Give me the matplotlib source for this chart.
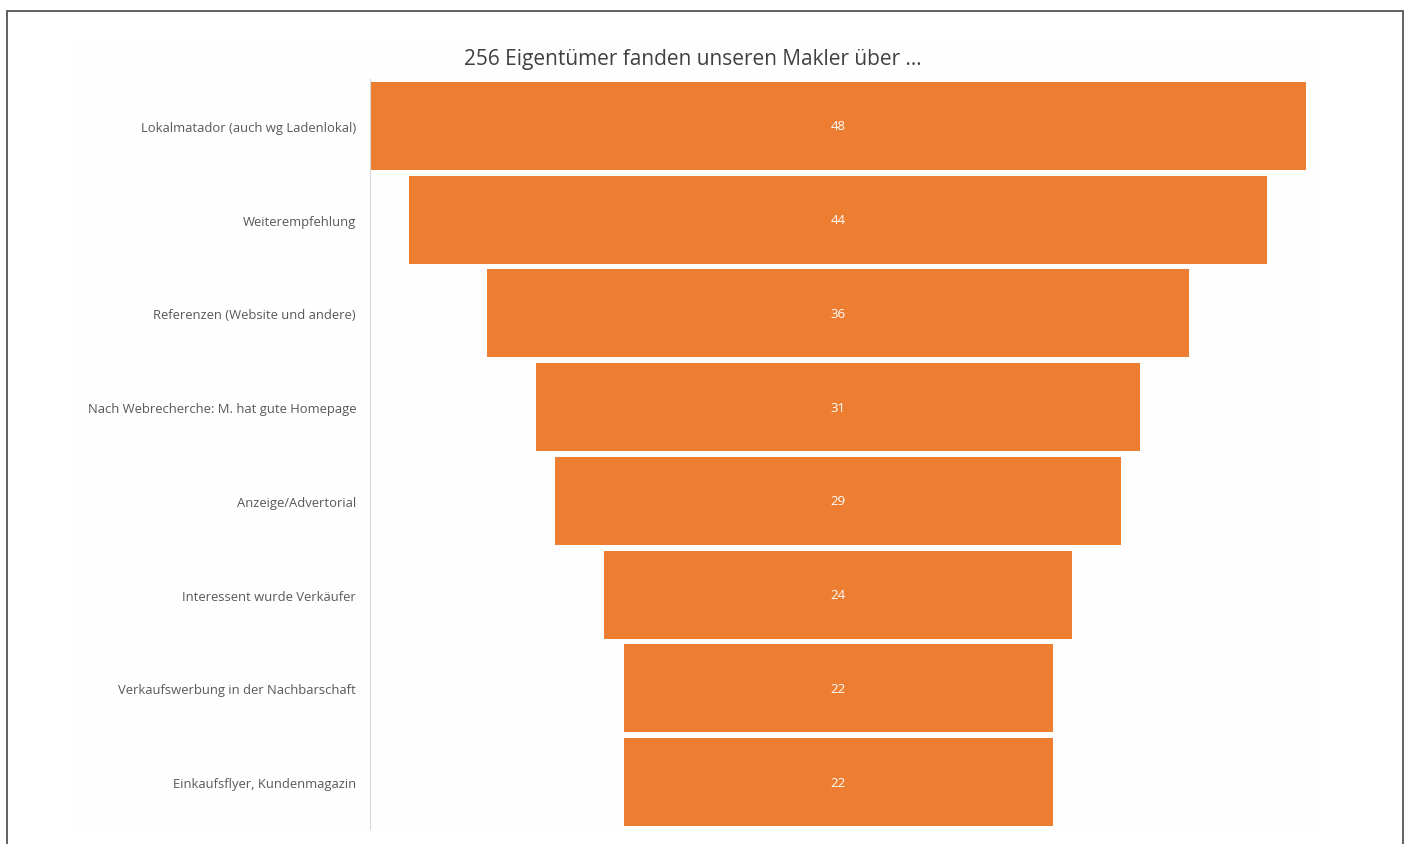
import matplotlib.pyplot as plt
from matplotlib.patches import Rectangle

categories = ['Lokalmatador (auch wg Ladenlokal)', 'Weiterempfehlung',
              'Referenzen (Website und andere)', 'Nach Webrecherche: M. hat gute Homepage',
              'Anzeige/Advertorial', 'Interessent wurde Verkäufer',
              'Verkaufswerbung in der Nachbarschaft', 'Einkaufsflyer, Kundenmagazin']
values = [48, 44, 36, 31, 29, 24, 22, 22]
title = '256 Eigentümer fanden unseren Makler über ...'

plt.rcParams['font.family'] = ['Open Sans', 'DejaVu Sans']

fig = plt.figure(figsize=(14.08, 8.45), dpi=100)
W, H = 1408, 845

# outer frame and faint chart area
fig.add_artist(Rectangle((72 / W, 1 - 830 / H), (1320 - 72) / W, (830 - 40) / H,
                         transform=fig.transFigure, facecolor='#fefefe', edgecolor='none', zorder=0))
fig.add_artist(Rectangle((7 / W, -0.02), (1403 - 7) / W, 1 - 12 / H + 0.02,
                         transform=fig.transFigure, facecolor='none', edgecolor='#555555',
                         linewidth=1.3, zorder=5))

ax = fig.add_axes([370 / W, 1 - 830 / H, (1306 - 370) / W, (830 - 80) / H])
ax.patch.set_alpha(0)

y = list(range(len(values)))
lefts = [-v / 2 for v in values]
bars = ax.barh(y, values, left=lefts, height=0.94, color='#ED7D31')
for yi, v in zip(y, values):
    ax.text(0, yi, str(v), ha='center', va='center', color='white', fontsize=9.5)

m = max(values) / 2
ax.set_xlim(-m, m)
ax.set_ylim(len(values) - 0.5, -0.5)
ax.set_yticks(y)
ax.set_yticklabels(categories, fontsize=9.4, color='#595959')
ax.tick_params(axis='y', length=0, pad=10)
ax.set_xticks([])
for s in ['top', 'right', 'bottom']:
    ax.spines[s].set_visible(False)
ax.spines['left'].set_color('#d9d9d9')

fig.text(693 / W, 1 - 59 / H, title, ha='center', va='center', fontsize=15, color='#404040')

fig.savefig('out.png', dpi=100)
